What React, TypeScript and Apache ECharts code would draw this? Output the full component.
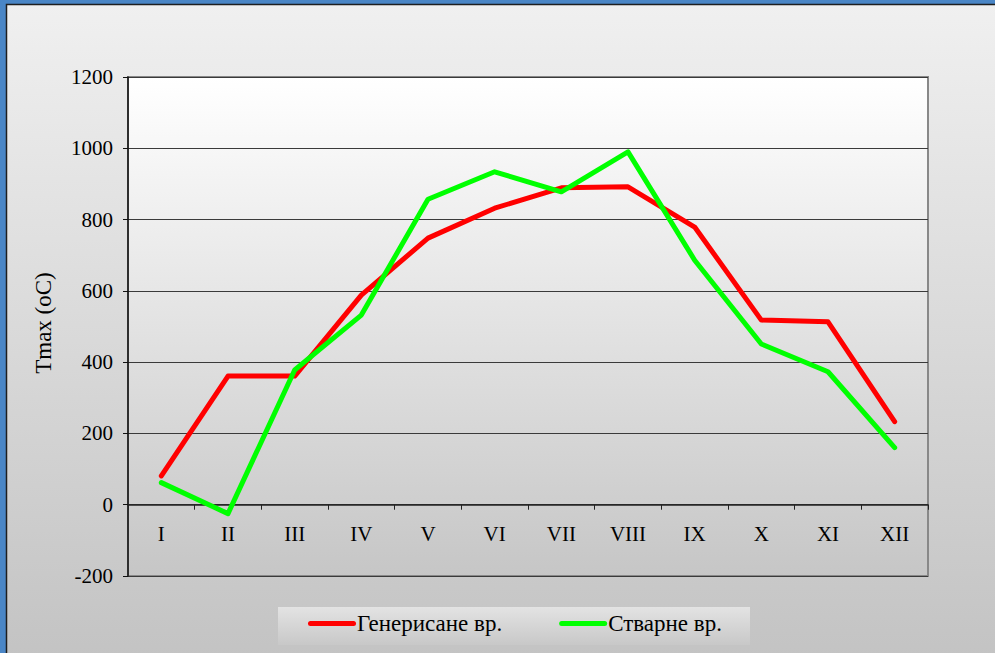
import React, { useEffect, useRef } from "react";
import * as echarts from "echarts";

const categories = ["I", "II", "III", "IV", "V", "VI", "VII", "VIII", "IX", "X", "XI", "XII"];
const generatedValues = [81, 361, 361, 588, 748, 832, 889, 892, 779, 518, 513, 233];
const actualValues = [62, -25, 378, 532, 857, 934, 878, 990, 686, 451, 373, 160];
const seriesNames = ["Генерисане вр.", "Стварне вр."];
const yAxisTitle = "Tmax (oC)";
const yMin = -200;
const yMax = 1200;
const yStep = 200;

const FONT = "Liberation Serif";

export default function App() {
  const ref = useRef<HTMLDivElement>(null);

  useEffect(() => {
    if (!ref.current) return;
    const chart = echarts.init(ref.current, undefined, { renderer: "svg" });
    const legendIcon =
      "path://M2.5,0 L45.5,0 A2.5,2.5 0 0 1 45.5,5 L2.5,5 A2.5,2.5 0 0 1 2.5,0 Z";
    chart.setOption({
      animation: false,
      backgroundColor: "#4a86c6",
      textStyle: { fontFamily: FONT },
      graphic: [
        {
          type: "rect",
          z: -1,
          silent: true,
          shape: { x: 6.5, y: 4.5, width: 1000, height: 700 },
          style: {
            fill: new echarts.graphic.LinearGradient(0, 0, 0, 1, [
              { offset: 0, color: "#f0f0f0" },
              { offset: 1, color: "#c0c0c0" },
            ]),
            stroke: "#1e1e1e",
            lineWidth: 1.5,
          },
        },
        {
          type: "rect",
          z: -1,
          silent: true,
          shape: { x: 278, y: 607, width: 472, height: 38 },
          style: {
            fill: new echarts.graphic.LinearGradient(0, 0, 0, 1, [
              { offset: 0, color: "#e3e3e3" },
              { offset: 1, color: "#c8c8c8" },
            ]),
          },
        },
        {
          type: "text",
          z: 10,
          x: 43,
          y: 323,
          rotation: Math.PI / 2,
          style: {
            text: yAxisTitle,
            fontFamily: FONT,
            fontSize: 23,
            fill: "#000",
            align: "center",
            verticalAlign: "middle",
          },
        },
      ],
      grid: {
        left: 128,
        top: 77,
        width: 800,
        height: 499,
        show: true,
        borderColor: "#888888",
        borderWidth: 2,
        backgroundColor: new echarts.graphic.LinearGradient(0, 0, 0, 1, [
          { offset: 0, color: "#ffffff" },
          { offset: 1, color: "#c6c6c6" },
        ]),
      },
      legend: {
        left: 303,
        top: 607,
        itemWidth: 48,
        itemHeight: 5,
        itemGap: 57,
        icon: legendIcon,
        textStyle: { fontFamily: FONT, fontSize: 23, color: "#000", padding: [0, 0, 0, -4] },
        data: seriesNames,
      },
      xAxis: {
        type: "category",
        data: categories,
        boundaryGap: true,
        axisLine: { onZero: true, lineStyle: { color: "#222", width: 1.5 } },
        axisTick: { show: true, length: 5, lineStyle: { color: "#222" } },
        axisLabel: { fontFamily: FONT, fontSize: 21, color: "#000", margin: -53 },
        splitLine: { show: false },
      },
      yAxis: {
        type: "value",
        min: yMin,
        max: yMax,
        interval: yStep,
        axisLine: { show: true, lineStyle: { color: "#111", width: 1.5 } },
        axisTick: { show: true, length: 5, lineStyle: { color: "#111" } },
        axisLabel: {
          fontFamily: FONT,
          fontSize: 21,
          color: "#000",
          margin: 15,
          formatter: (v: number) => String(v),
        },
        splitLine: { show: true, lineStyle: { color: "#3a3a3a", width: 1 } },
      },
      series: [
        {
          name: seriesNames[0],
          type: "line",
          data: generatedValues,
          symbol: "none",
          color: "#ff0000",
          lineStyle: { color: "#ff0000", width: 5, cap: "round", join: "round" },
          z: 3,
        },
        {
          name: seriesNames[1],
          type: "line",
          data: actualValues,
          symbol: "none",
          color: "#00ff00",
          lineStyle: { color: "#00ff00", width: 5, cap: "round", join: "round" },
          z: 4,
        },
      ],
    });
    return () => chart.dispose();
  }, []);

  return (
    <div
      ref={ref}
      style={{ position: "fixed", left: 0, top: 0, width: 995, height: 653 }}
    />
  );
}
